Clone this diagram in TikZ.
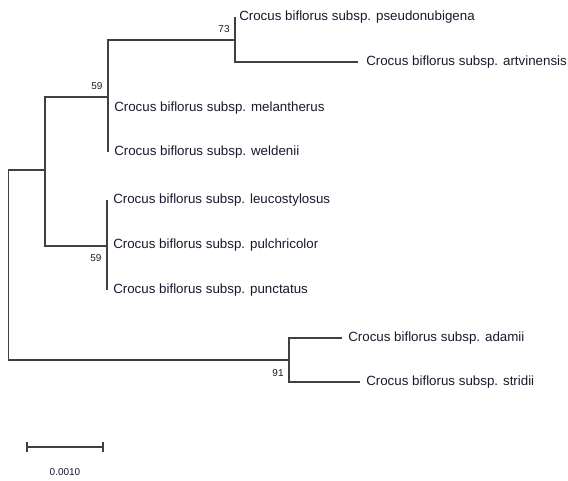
\documentclass[tikz,border=0pt]{standalone}
\usepackage{fontspec}
\setmainfont{Liberation Sans}
\definecolor{txt}{RGB}{25,25,45}
\begin{document}
\begin{tikzpicture}[x=0.75pt,y=-0.75pt,
  branch/.style={draw=black!75, line width=0.8pt},
  taxon/.style={anchor=west, inner sep=0pt, text=txt, font=\fontsize{10}{11}\selectfont},
  boot/.style={inner sep=0pt, text=txt, font=\fontsize{7.5}{9}\selectfont}]
\useasboundingbox (0,0) rectangle (568,480);
% internal nodes
\coordinate (R) at (8.5,265);
\coordinate (A) at (45,170);
\coordinate (E) at (289,360);
\coordinate (B) at (108,97);
\coordinate (D) at (107,246);
\coordinate (C) at (235,40);
% tips
\coordinate (t1) at (235,17);
\coordinate (t2) at (358,62);
\coordinate (t3) at (108,108);
\coordinate (t4) at (108,152);
\coordinate (t5) at (107,200);
\coordinate (t6) at (107,245);
\coordinate (t7) at (107,290);
\coordinate (t8) at (342,338);
\coordinate (t9) at (360,382);
% branches
\draw[branch] (A) -| (R) |- (E);
\draw[branch] (B) -| (A) |- (D);
\draw[branch] (C) -| (B) |- (t4);
\draw[branch] (t1) -- (C) |- (t2);
\draw[branch] (t5) -- (t7);
\draw[branch] (t8) -| (E) |- (t9);
% taxon labels
\node[taxon] (l1) at (239,17.5) {Crocus biflorus subsp. pseudonubigena};
\node[taxon] (l2) at (366,62.5) {Crocus biflorus subsp. artvinensis};
\node[taxon] (l3) at (114,108.5) {Crocus biflorus subsp. melantherus};
\node[taxon] (l4) at (114,152.5) {Crocus biflorus subsp. weldenii};
\node[taxon] (l5) at (113,200.5) {Crocus biflorus subsp. leucostylosus};
\node[taxon] (l6) at (113,245.5) {Crocus biflorus subsp. pulchricolor};
\node[taxon] (l7) at (113,290.5) {Crocus biflorus subsp. punctatus};
\node[taxon] (l8) at (348,338.5) {Crocus biflorus subsp. adamii};
\node[taxon] (l9) at (366,382.5) {Crocus biflorus subsp. stridii};
% bootstrap values
\node[boot] (b73) at (224,29) {73};
\node[boot] (b59a) at (97,86) {59};
\node[boot] (b59b) at (96,258) {59};
\node[boot] (b91) at (278,373) {91};
% scale bar
\coordinate (s1) at (27,447);
\coordinate (s2) at (103,447);
\draw[branch] (s1) -- (s2);
\draw[branch] ([yshift=-4]s1) -- ([yshift=4]s1);
\draw[branch] ([yshift=-4]s2) -- ([yshift=4]s2);
\node[boot] (sl) at (65,472) {0.0010};
\end{tikzpicture}
\end{document}
